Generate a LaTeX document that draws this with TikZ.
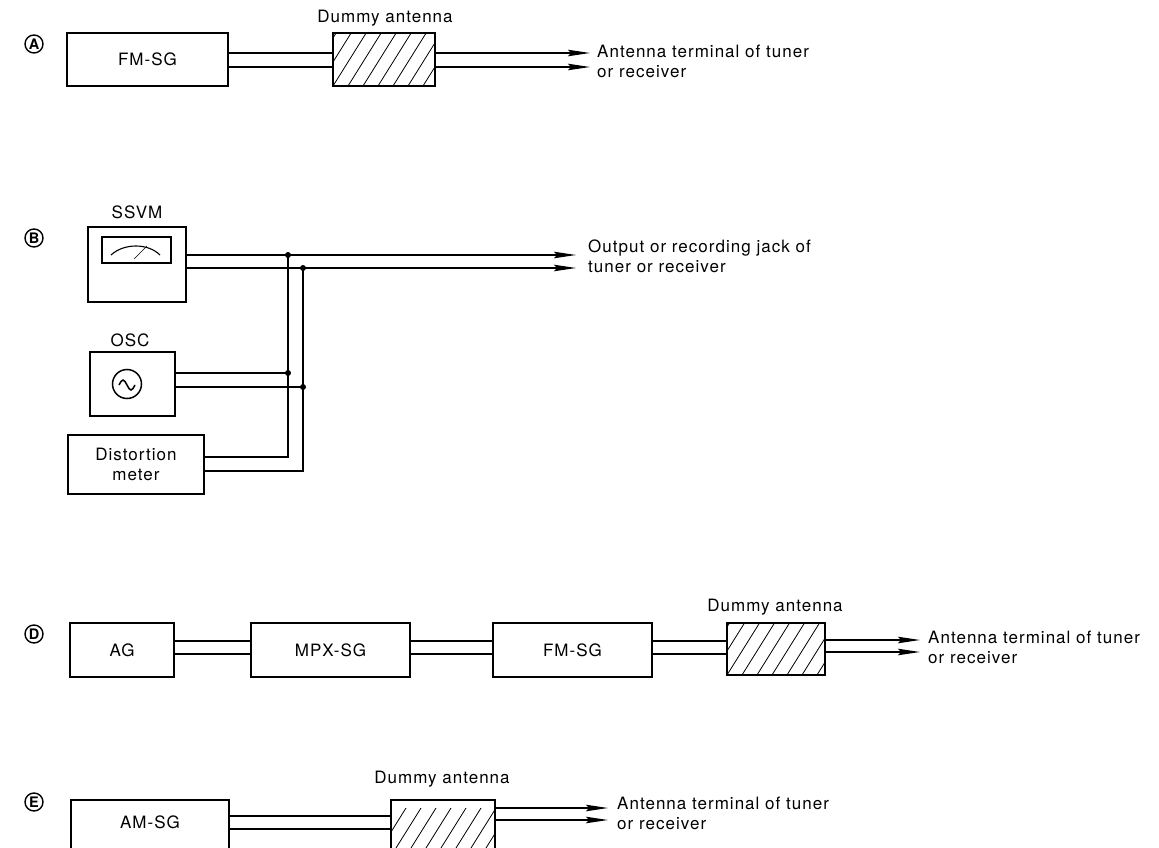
\documentclass[tikz,border=0pt]{standalone}
\usepackage{fontspec}
\setmainfont{TeX Gyre Heros}[LetterSpace=6]
\usetikzlibrary{arrows.meta,calc}
\newcommand\lblfont{\fontsize{17}{20}\selectfont}
\tikzset{
  box/.style={draw,rectangle,line width=2.2pt,inner sep=0pt,font=\lblfont},
  dummy/.style={draw,rectangle,line width=2.2pt,inner sep=0pt,
    path picture={\foreach \k in {-4,...,8}{\draw[line width=0.8pt]
      ([xshift=\k*15pt]path picture bounding box.south west) -- ++(45pt,72pt);}}},
  wire/.style={line width=1.3pt},
  arr/.style={-{Stealth[length=22pt,width=6.5pt,inset=3pt]}},
  lbl/.style={inner sep=0pt,font=\lblfont},
  txt/.style={inner sep=0pt,font=\lblfont,align=left,anchor=west},
  tag/.style={circle,draw,line width=1.4pt,minimum size=18pt,inner sep=0pt,
    font=\fontsize{14.5}{14.5}\selectfont\bfseries},
  dot/.style={circle,fill,inner sep=0pt,minimum size=6pt}
}
\begin{document}
\begin{tikzpicture}[x=1pt,y=-1pt]
\useasboundingbox (0,0) rectangle (1159,848);
\fill[white] (0,0) rectangle (1159,848);
\clip (0,0) rectangle (1159,848);

% ---------- A ----------
\node[tag] (cA) at (34,44) {A};
\node[box,minimum width=161,minimum height=53] (A1) at (147.5,59.5) {FM-SG};
\node[dummy,minimum width=102,minimum height=53] (A2) at (384,59.5) {};
\node[lbl] (A2l) at (385,18) {Dummy antenna};
\coordinate (A3a) at (590,53);
\coordinate (A3b) at (590,67);
\draw[wire] (A1.east |- A3a) -- (A2.west |- A3a);
\draw[wire] (A1.east |- A3b) -- (A2.west |- A3b);
\draw[wire,arr] (A2.east |- A3a) -- (A3a);
\draw[wire,arr] (A2.east |- A3b) -- (A3b);
\node[txt] (A4) at (597,61) {Antenna terminal of tuner\\or receiver};

% ---------- B ----------
\node[tag] (cB) at (34,238) {B};
\node[lbl] (B1l) at (137,212) {SSVM};
\node[box,minimum width=98,minimum height=75] (B1) at (137,264.5) {};
\node[draw,rectangle,line width=1.8pt,minimum width=69,minimum height=26,inner sep=0pt] (B1w) at (136.5,250) {};
\draw[line width=1.1pt] (111,255) .. controls (124,243) and (148,243) .. (160,255);
\draw[line width=0.5pt] (134,259) -- (147,246);
\node[lbl] (B2l) at (130,340) {OSC};
\node[box,minimum width=85,minimum height=64] (B2) at (132.5,384) {};
\node[circle,draw,line width=1.5pt,minimum size=29pt,inner sep=0pt] (B2s) at (127,384) {};
\draw[line width=1.5pt] ($(B2s.center)+(-8,1)$) sin ++(4,-5) cos ++(4,5) sin ++(4,5) cos ++(4,-5);
\node[box,align=center,minimum width=136,minimum height=59] (B3) at (136,464.5) {Distortion\\meter};
\coordinate (j1) at (288,255);
\coordinate (j2) at (303,268);
\coordinate (j3) at (288,373);
\coordinate (j4) at (303,387);
\coordinate (k1) at (288,457);
\coordinate (k2) at (303,471);
\coordinate (t1) at (576,255);
\coordinate (t2) at (576,268);
\draw[wire,arr] (B1.east |- j1) -- (t1);
\draw[wire,arr] (B1.east |- j2) -- (t2);
\draw[wire] (B2.east |- j3) -- (j3);
\draw[wire] (B2.east |- j4) -- (j4);
\draw[wire] (B3.east |- k1) -- (k1) -- (j1);
\draw[wire] (B3.east |- k2) -- (k2) -- (j2);
\foreach \j in {j1,j2,j3,j4} \node[dot] at (\j) {};
\node[txt] (B4) at (588,256) {Output or recording jack of\\tuner or receiver};

% ---------- D ----------
\node[tag] (cD) at (34,634) {D};
\node[box,minimum width=104,minimum height=54] (D1) at (122,650) {AG};
\node[box,minimum width=159,minimum height=54] (D2) at (330.5,650) {MPX-SG};
\node[box,minimum width=159,minimum height=54] (D3) at (572.5,650) {FM-SG};
\node[dummy,minimum width=98,minimum height=52] (D4) at (776,649) {};
\node[lbl] (D4l) at (775,607) {Dummy antenna};
\coordinate (Dya) at (0,641);
\coordinate (Dyb) at (0,654);
\draw[wire] (D1.east |- Dya) -- (D2.west |- Dya);
\draw[wire] (D1.east |- Dyb) -- (D2.west |- Dyb);
\draw[wire] (D2.east |- Dya) -- (D3.west |- Dya);
\draw[wire] (D2.east |- Dyb) -- (D3.west |- Dyb);
\draw[wire] (D3.east |- Dya) -- (D4.west |- Dya);
\draw[wire] (D3.east |- Dyb) -- (D4.west |- Dyb);
\coordinate (D5a) at (920,640);
\coordinate (D5b) at (920,652);
\draw[wire,arr] (D4.east |- D5a) -- (D5a);
\draw[wire,arr] (D4.east |- D5b) -- (D5b);
\node[txt] (D6) at (928,647) {Antenna terminal of tuner\\or receiver};

% ---------- E ----------
\node[tag] (cE) at (34,802) {E};
\node[box,minimum width=158,minimum height=80] (E1) at (150,840) {};
\node[lbl] (E1t) at (150,822) {AM-SG};
\node[dummy,minimum width=104,minimum height=80] (E2) at (443,840) {};
\node[lbl] (E2l) at (442,779) {Dummy antenna};
\coordinate (Eya) at (0,816);
\coordinate (Eyb) at (0,829);
\draw[wire] (E1.east |- Eya) -- (E2.west |- Eya);
\draw[wire] (E1.east |- Eyb) -- (E2.west |- Eyb);
\coordinate (E3a) at (608,808);
\coordinate (E3b) at (608,820);
\draw[wire,arr] (E2.east |- E3a) -- (E3a);
\draw[wire,arr] (E2.east |- E3b) -- (E3b);
\node[txt] (E4) at (617,813) {Antenna terminal of tuner\\or receiver};
\end{tikzpicture}
\end{document}
